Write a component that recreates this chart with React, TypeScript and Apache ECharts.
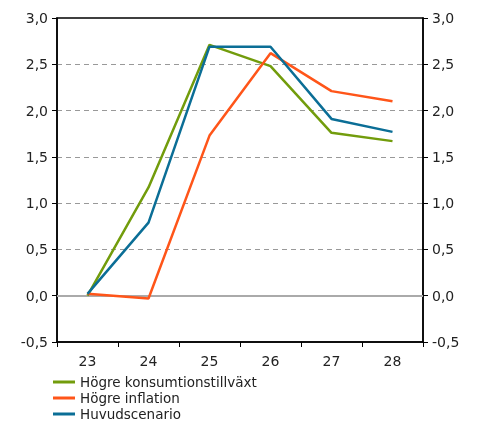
import React, { useEffect, useRef } from "react";
import * as echarts from "echarts";

const categories = ["23", "24", "25", "26", "27", "28"];
const seriesNames = ["Högre konsumtionstillväxt", "Högre inflation", "Huvudscenario"];
const consumption = [0.0, 1.17, 2.71, 2.48, 1.76, 1.67];
const inflation = [0.02, -0.03, 1.73, 2.62, 2.21, 2.1];
const mainScenario = [0.02, 0.79, 2.69, 2.69, 1.91, 1.77];
const colors = ["#729c0c", "#ff5519", "#0b6e96"];

const FONT = "DejaVu Sans";

export default function App() {
  const ref = useRef<HTMLDivElement>(null);
  useEffect(() => {
    const chart = echarts.init(ref.current!, null, { renderer: "svg" });
    const fmt = (v: number) => v.toFixed(1).replace(".", ",");
    const yAxisBase = {
      type: "value" as const,
      min: -0.5,
      max: 3,
      interval: 0.5,
      axisLine: { show: true, lineStyle: { color: "#000", width: 1.5 } },
      axisTick: { show: true, length: 5, lineStyle: { color: "#000" } },
      axisLabel: { formatter: fmt, color: "#222", fontFamily: FONT, fontSize: 14, margin: 9 },
    };
    const dataArr = [consumption, inflation, mainScenario];
    chart.setOption({
      animation: false,
      grid: { left: 57, right: 55, top: 18, bottom: 82, show: true, borderColor: "#000", borderWidth: 1.5, backgroundColor: "transparent" },
      legend: {
        orient: "vertical",
        left: 53,
        top: 375,
        height: 60,
        padding: 0,
        itemWidth: 22,
        itemHeight: 3,
        itemGap: 2,
        icon: "rect",
        textStyle: { fontFamily: FONT, fontSize: 13.5, color: "#222", lineHeight: 14 },
        data: seriesNames,
      },
      xAxis: {
        type: "category",
        data: categories,
        boundaryGap: true,
        axisLine: { show: true, onZero: false, lineStyle: { color: "#000", width: 1.5 } },
        axisTick: { show: true, length: 5, alignWithLabel: false, lineStyle: { color: "#000" } },
        axisLabel: { color: "#222", fontFamily: FONT, fontSize: 14, margin: 12 },
        splitLine: { show: false },
      },
      yAxis: [
        {
          ...yAxisBase,
          position: "left",
          splitLine: { show: true, showMaxLine: false, showMinLine: false, lineStyle: { color: "#999", type: [5, 4], width: 1.2 } },
        },
        {
          ...yAxisBase,
          position: "right",
          splitLine: { show: false },
        },
      ],
      series: seriesNames.map((name, i) => ({
        name,
        type: "line",
        data: dataArr[i],
        yAxisIndex: 0,
        symbol: "none",
        z: 3 + (i === 0 ? 0 : i === 2 ? 2 : 1),
        lineStyle: { color: colors[i], width: 2.5 },
        itemStyle: { color: colors[i] },
        markLine:
          i === 0
            ? {
                silent: true,
                symbol: "none",
                label: { show: false },
                lineStyle: { color: "#aaa", type: "solid", width: 2 },
                data: [{ yAxis: 0 }],
                z: 2,
              }
            : undefined,
      })),
    });
    return () => chart.dispose();
  }, []);
  return <div ref={ref} style={{ width: 478, height: 424, position: "fixed", left: 0, top: 0 }} />;
}
